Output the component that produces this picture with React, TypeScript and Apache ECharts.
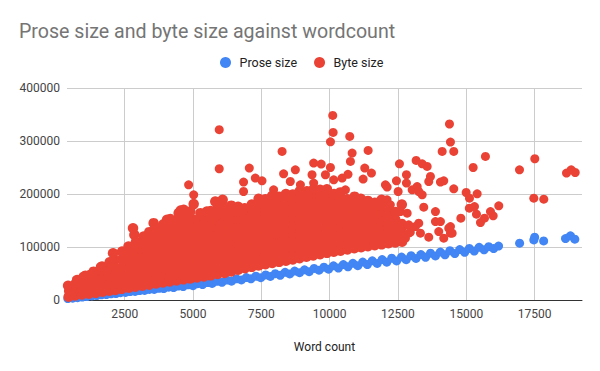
import React, { useEffect, useRef } from "react";
import * as echarts from "echarts";

const chartTitle = "Prose size and byte size against wordcount";
const xAxisTitle = "Word count";
const seriesNames = ["Prose size", "Byte size"];
const yTicks = [0, 100000, 200000, 300000, 400000];

// [word count, prose size]
const proseSize: [number, number][] = [
  [420, 2600], [600, 3500], [780, 4300], [950, 5600], [1120, 6400], [1300, 7600], [1480, 8300], [1650, 9700],
  [1830, 10300], [2000, 11800], [2180, 12200], [2350, 13900], [2530, 14300], [2700, 15900], [2880, 16200],
  [3050, 17900], [3230, 18100], [3400, 20000], [3580, 19900], [3760, 22100], [3930, 21700], [4110, 24200],
  [4290, 23500], [4460, 26400], [4640, 25400], [4820, 28600], [5000, 27000], [5170, 30800], [5350, 29100],
  [5530, 33000], [5700, 31200], [5880, 35200], [6060, 33400], [6240, 37600], [6410, 35500], [6590, 40000],
  [6770, 37900], [6950, 42300], [7120, 40100], [7300, 44800], [7480, 42100], [7660, 47300], [7830, 44400],
  [8010, 49700], [8190, 46700], [8370, 52200], [8540, 49200], [8720, 54500], [8900, 51600], [9080, 57000],
  [9250, 53500], [9430, 59500], [9610, 56200], [9790, 62000], [9960, 58200], [10140, 64400], [10320, 60400],
  [10500, 66800], [10670, 62700], [10850, 69200], [11030, 64800], [11210, 71500], [11380, 66900], [11560, 74000],
  [11740, 69100], [11920, 76300], [12090, 71400], [12270, 78800], [12450, 73800], [12630, 81000], [12800, 76000],
  [12980, 83500], [13160, 78400], [13340, 85800], [13510, 80700], [13690, 88200], [13870, 83100], [14050, 90500],
  [14220, 85400], [14400, 92900], [14580, 87700], [14760, 95200], [14940, 89900], [15110, 97400], [15290, 92400],
  [15470, 99300], [15650, 94700], [15820, 100600], [16000, 97000], [16180, 101800],
  [16950, 107200], [17470, 113400], [17500, 118500], [17830, 111500], [18630, 115900], [18810, 121000], [18970, 114700],
];

// [word count, byte size] – the dense cloud, read column by column
const byteSizeCloudLow: [number, number][] = [
  [450, 6000], [470, 17000], [430, 27000],
  [690, 8500], [720, 19000], [700, 30500], [760, 37800],
  [940, 10500], [960, 21500], [990, 33000], [1000, 44000],
  [1190, 12000], [1220, 24500], [1180, 36000], [1230, 47000],
  [1440, 13500], [1460, 26000], [1430, 39000], [1470, 51000], [1365, 53500],
  [1690, 15500], [1710, 28500], [1720, 42000], [1680, 55000], [1670, 63000],
  [1940, 17500], [1960, 31000], [1930, 45000], [1970, 58000], [1950, 71000],
  [2160, 19000], [2140, 33000], [2170, 47000], [2150, 61000], [2130, 75000], [2075, 88300],
  [2390, 21000], [2410, 35000], [2380, 49500], [2420, 63000], [2400, 77000], [2405, 91300],
  [2650, 23000], [2660, 30500], [2640, 45000], [2670, 59500], [2650, 74000], [2660, 88500], [2640, 101000],
  [2890, 25000], [2910, 39500], [2880, 54000], [2920, 68000], [2900, 82000], [2890, 96000], [2910, 109000], [2855, 122850], [2805, 135500],
  [3150, 27000], [3140, 34500], [3170, 49000], [3150, 63500], [3130, 78000], [3160, 92500], [3150, 107000], [3195, 119600],
  [3400, 29000], [3410, 43000], [3390, 58000], [3420, 72000], [3400, 86500], [3380, 101000], [3410, 115000], [3400, 128000],
  [3650, 31000], [3640, 38500], [3660, 53000], [3630, 67500], [3670, 82000], [3650, 96500], [3640, 111000], [3660, 125000], [3620, 137000], [3560, 145000],
  [3900, 33000], [3910, 47500], [3890, 62000], [3920, 76000], [3900, 90500], [3880, 105000], [3910, 119000], [3900, 133000], [3920, 143000],
  [4150, 35000], [4140, 42500], [4160, 57000], [4130, 71500], [4170, 86000], [4150, 100500], [4140, 115000], [4160, 129500], [4150, 143000], [4050, 151200],
  [4400, 37000], [4390, 51500], [4410, 66000], [4420, 80500], [4380, 95000], [4400, 109000], [4420, 123000], [4390, 137000], [4410, 151000], [4475, 163900],
  [4650, 39000], [4660, 46500], [4640, 61000], [4650, 75500], [4670, 90000], [4630, 104500], [4660, 119000], [4650, 133500], [4640, 148000], [4660, 160000], [4660, 170100],
  [4900, 40500], [4890, 55000], [4910, 69500], [4900, 84000], [4880, 98500], [4920, 113000], [4900, 127000], [4890, 141000], [4910, 155000], [4900, 167000], [5025, 180900],
  [5150, 42500], [5140, 50000], [5160, 64500], [5150, 79000], [5170, 93500], [5130, 108000], [5150, 122500], [5160, 137000], [5140, 151000], [5270, 163900],
  [5400, 44500], [5410, 59000], [5390, 73500], [5400, 88000], [5420, 102500], [5380, 117000], [5400, 131000], [5410, 145000], [5400, 158000], [5510, 166900],
  [5650, 46500], [5640, 54000], [5660, 68500], [5650, 83000], [5630, 97500], [5670, 112000], [5650, 126500], [5640, 141000], [5660, 155000], [5650, 168000],
  [5900, 49000], [5910, 63500], [5890, 78000], [5900, 92500], [5920, 107000], [5880, 121000], [5900, 135000], [5910, 149000], [5890, 162000], [5920, 175000], [5815, 185800],
  [6150, 51000], [6140, 58500], [6160, 73000], [6150, 87500], [6130, 102000], [6170, 116500], [6150, 131000], [6140, 145500], [6160, 160000], [6150, 174000], [6085, 189000],
];

const byteSizeCloudHigh: [number, number][] = [
  [6400, 54000], [6410, 68500], [6390, 83000], [6400, 97500], [6420, 112000], [6380, 126000], [6400, 140000], [6410, 154000], [6390, 167000], [6400, 178000],
  [6650, 57000], [6640, 64500], [6660, 79000], [6650, 93500], [6630, 108000], [6670, 122500], [6650, 137000], [6640, 151500], [6660, 166000], [6650, 176000],
  [6900, 60000], [6910, 74500], [6890, 89000], [6900, 103500], [6920, 118000], [6880, 132000], [6900, 146000], [6910, 160000], [6890, 173000],
  [7150, 62500], [7140, 70000], [7160, 84500], [7150, 99000], [7130, 113500], [7170, 128000], [7150, 142500], [7140, 157000], [7160, 171500], [7150, 180000],
  [7400, 65000], [7410, 79500], [7390, 94000], [7400, 108500], [7420, 123000], [7380, 137000], [7400, 151000], [7410, 165000], [7390, 178000], [7400, 190900],
  [7650, 67500], [7640, 75000], [7660, 89500], [7650, 104000], [7630, 118500], [7670, 133000], [7650, 147500], [7640, 162000], [7660, 176500], [7650, 190000],
  [7900, 70000], [7910, 84500], [7890, 99000], [7900, 113500], [7920, 128000], [7880, 142000], [7900, 156000], [7910, 170000], [7890, 183000], [7890, 196000],
  [8150, 72000], [8140, 79500], [8160, 94000], [8150, 108500], [8130, 123000], [8170, 137500], [8150, 152000], [8140, 166500], [8160, 181000], [8150, 195000],
  [8400, 74000], [8410, 88500], [8390, 103000], [8400, 117500], [8420, 132000], [8380, 146000], [8400, 160000], [8410, 174000], [8390, 187000], [8400, 200000],
  [8650, 76500], [8640, 84000], [8660, 98500], [8650, 113000], [8630, 127500], [8670, 142000], [8650, 156500], [8640, 171000], [8660, 185500], [8650, 199000],
  [8900, 79000], [8910, 93500], [8890, 108000], [8900, 122500], [8920, 137000], [8880, 151000], [8900, 165000], [8910, 179000], [8890, 192000], [8900, 205000],
  [9150, 81500], [9140, 89000], [9160, 103500], [9150, 118000], [9130, 132500], [9170, 147000], [9150, 161500], [9140, 176000], [9160, 190500], [9170, 205000],
  [9400, 84000], [9410, 98500], [9390, 113000], [9400, 127500], [9420, 142000], [9380, 156000], [9400, 170000], [9410, 184000], [9390, 197000], [9415, 209000],
  [9650, 86500], [9640, 94000], [9660, 108500], [9650, 123000], [9630, 137500], [9670, 152000], [9650, 166500], [9640, 181000], [9660, 195500], [9650, 208000],
  [9900, 89000], [9910, 103500], [9890, 118000], [9900, 132500], [9920, 147000], [9880, 161000], [9900, 175000], [9910, 189000], [9890, 201000], [9900, 209000],
  [10150, 91000], [10140, 98500], [10160, 113000], [10150, 127500], [10130, 142000], [10170, 156500], [10150, 171000], [10140, 185500], [10160, 200000],
  [10400, 93000], [10410, 107500], [10390, 122000], [10400, 136500], [10420, 151000], [10380, 165000], [10400, 179000], [10410, 192000], [10390, 203000],
  [10650, 95500], [10640, 103000], [10660, 117500], [10650, 132000], [10630, 146500], [10670, 161000], [10650, 175500], [10640, 190000],
  [10900, 97500], [10910, 112000], [10890, 126500], [10900, 141000], [10920, 155500], [10880, 170000], [10900, 183000], [10910, 195000],
  [11150, 99500], [11140, 107000], [11160, 121500], [11150, 136000], [11130, 150500], [11170, 165000], [11150, 179500], [11140, 191000],
  [11400, 101500], [11410, 116000], [11390, 130500], [11400, 145000], [11420, 159500], [11380, 174000], [11400, 187000],
  [11650, 103500], [11640, 111000], [11660, 125500], [11650, 140000], [11630, 154500], [11670, 169000], [11650, 183500],
  [11900, 105000], [11910, 119500], [11890, 134000], [11900, 148500], [11920, 163000], [11880, 177000], [11900, 189000],
  [12150, 107000], [12140, 114500], [12160, 129000], [12150, 143500], [12130, 158000], [12170, 172500],
  [12400, 108500], [12410, 123000], [12390, 137500], [12400, 152000], [12420, 166000],
  [12650, 110000], [12640, 124500], [12660, 139000], [12640, 180000],
];

// [word count, byte size] – the scattered points above and to the right of the cloud
const byteSizeScattered: [number, number][] = [
  [635, 15700], [1060, 47250], [1610, 63000], [2100, 88300], [4170, 154400], [4535, 170100],
  [4840, 217300], [5025, 198500], [5960, 321300], [5960, 247600], [7060, 248900], [8260, 280300],
  [6850, 222500], [7280, 230000], [7525, 224900], [8745, 245700], [8315, 238100], [9690, 256500], [9415, 258400],
  [10030, 298500], [10113, 348300], [10127, 316200], [10735, 308600], [11408, 282200], [10822, 277300], [10760, 261400],
  [10028, 250000], [11284, 248900], [11529, 239500], [11225, 228100], [10670, 237200], [10456, 230000], [10149, 226800],
  [9845, 236300], [6850, 204700], [7950, 207900], [8560, 223600], [8930, 217300], [9355, 236300], [9415, 220600],
  [10577, 207900], [12041, 217300], [12103, 213000], [12444, 224900], [12810, 220600], [12810, 236300],
  [12554, 257000], [13165, 263300], [13385, 257000], [13568, 252000], [13688, 233000], [13626, 223600], [14054, 222500], [14175, 224900],
  [12506, 204700], [13019, 207900], [13202, 214100], [13260, 204700], [13385, 198500], [14541, 209800], [14995, 202800],
  [15110, 173300], [13443, 175200], [13871, 166900], [14800, 154400], [12590, 166900], [12836, 163900], [13871, 148000],
  [14054, 148000], [13260, 145000], [13139, 138500], [12894, 141750], [14358, 135500], [13322, 126100], [13626, 118500],
  [13992, 129100], [14175, 116600], [14420, 126100], [12590, 132300], [12773, 116600], [12528, 113400], [12894, 126100],
  [12100, 189000], [12220, 179500], [12650, 145000], [12950, 128000],
  [14117, 280300], [14541, 280300], [14420, 298000], [14384, 332100], [15700, 270800], [15251, 250000], [16946, 245700],
  [17506, 266500], [18666, 239500], [18838, 245700], [18984, 240600], [15116, 192200], [15397, 200300], [15299, 176300],
  [15372, 162000], [15518, 146100], [15665, 154400], [15884, 166900], [15983, 158800], [16188, 177700], [17469, 192200],
  [17835, 190300], [14420, 138500], [14482, 126100],
];

const byteSizeCloud: [number, number][] = [...byteSizeCloudLow, ...byteSizeCloudHigh];

export default function App() {
  const ref = useRef<HTMLDivElement>(null);
  useEffect(() => {
    if (!ref.current) return;
    const chart = echarts.init(ref.current, null, { renderer: "svg" });
    const font = "Roboto, Arial, sans-serif";
    const plain = (v: number) => String(v);
    chart.setOption({
      animation: false,
      backgroundColor: "#ffffff",
      title: {
        text: chartTitle,
        left: 19,
        top: 21,
        padding: 0,
        textStyle: { fontFamily: font, fontSize: 19.6, fontWeight: "normal", color: "#757575" },
      },
      legend: {
        data: seriesNames,
        left: 220,
        top: 56,
        padding: 0,
        icon: "circle",
        itemWidth: 18,
        itemHeight: 11,
        itemGap: 17,
        textStyle: { fontFamily: font, fontSize: 12.5, color: "#222222" },
      },
      grid: { left: 67, right: 18, top: 88, bottom: 71, outerBoundsMode: "none" },
      xAxis: {
        type: "value",
        min: 390,
        max: 19233,
        minInterval: 2500,
        maxInterval: 2500,
        name: xAxisTitle,
        nameLocation: "middle",
        nameGap: 41,
        nameTextStyle: { fontFamily: font, fontSize: 12, color: "#222222" },
        axisLine: { show: true, lineStyle: { color: "#333333", width: 1 } },
        axisTick: { show: false },
        axisLabel: { formatter: plain, showMinLabel: false, showMaxLabel: false, margin: 8, fontFamily: font, fontSize: 12, color: "#444444" },
        splitLine: { show: true, showMinLine: false, showMaxLine: false, lineStyle: { color: "#cccccc", width: 1 } },
      },
      yAxis: {
        type: "value",
        min: yTicks[0],
        max: yTicks[yTicks.length - 1],
        interval: yTicks[1] - yTicks[0],
        axisLine: { show: false },
        axisTick: { show: false },
        axisLabel: { formatter: plain, margin: 7, fontFamily: font, fontSize: 12, color: "#444444" },
        splitLine: { show: true, lineStyle: { color: "#cccccc", width: 1 } },
      },
      series: [
        {
          name: seriesNames[0],
          type: "scatter",
          data: proseSize,
          symbolSize: 9,
          itemStyle: { color: "#4285F4", opacity: 1 },
        },
        {
          name: seriesNames[1],
          type: "scatter",
          data: byteSizeCloud,
          symbolSize: 10.5,
          itemStyle: { color: "#EA4335", opacity: 1 },
        },
        {
          name: seriesNames[1],
          type: "scatter",
          data: byteSizeScattered,
          symbolSize: 9,
          itemStyle: { color: "#EA4335", opacity: 1 },
        },
      ],
    });
    return () => chart.dispose();
  }, []);
  return <div ref={ref} style={{ position: "fixed", left: 0, top: 0, width: 600, height: 371 }} />;
}
